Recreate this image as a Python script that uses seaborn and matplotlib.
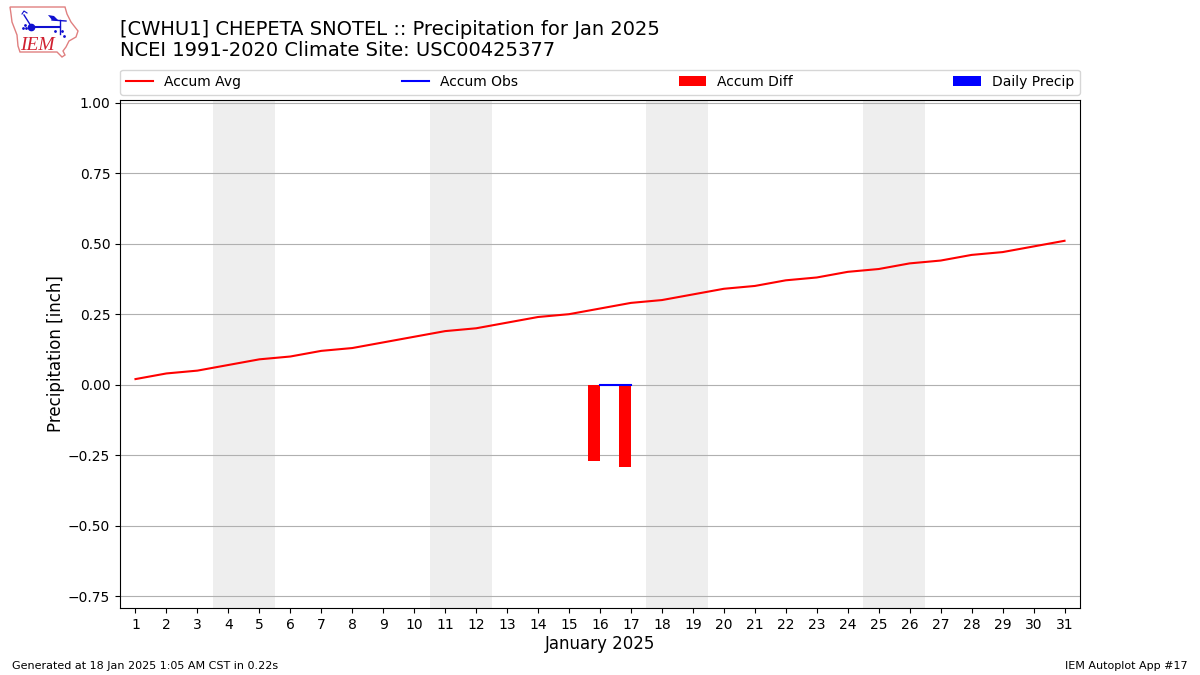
import pandas as pd
import matplotlib
matplotlib.use('Agg')
import matplotlib.pyplot as plt
from matplotlib.patches import Patch, Polygon
import seaborn as sns

# Values
days = list(range(1, 32))
accum_avg = [0.02, 0.04, 0.05, 0.07, 0.09, 0.10, 0.12, 0.13, 0.15, 0.17, 0.19,
             0.20, 0.22, 0.24, 0.25, 0.27, 0.29, 0.30, 0.32, 0.34, 0.35, 0.37,
             0.38, 0.40, 0.41, 0.43, 0.44, 0.46, 0.47, 0.49, 0.51]
obs_days = [16, 17]
accum_obs = [0.0, 0.0]
accum_diff = [-0.27, -0.29]
daily_precip = [0.0, 0.0]
weekends = [(3.5, 5.5), (10.5, 12.5), (17.5, 19.5), (24.5, 26.5)]
y_ticks = [-0.75, -0.50, -0.25, 0.0, 0.25, 0.50, 0.75, 1.00]

avg_df = pd.DataFrame({'day': days, 'avg': accum_avg})
obs_df = pd.DataFrame({'day': obs_days, 'obs': accum_obs})

sns.set_style('ticks')
plt.rcParams['font.family'] = ['DejaVu Sans']
plt.rcParams['lines.solid_capstyle'] = 'projecting'
plt.rcParams['patch.force_edgecolor'] = False

fig = plt.figure(figsize=(12, 6.75), dpi=100)
ax = fig.add_axes([0.10, 0.0993, 0.80, 0.7526])

for start, end in weekends:
    ax.axvspan(start, end, color='#eeeeee', lw=0, zorder=0)

ax.bar(obs_days, accum_diff, width=-0.4, align='edge', color='red', lw=0, zorder=2)
ax.bar(obs_days, daily_precip, width=0.4, align='edge', color='blue', lw=0, zorder=2)
sns.lineplot(data=avg_df, x='day', y='avg', color='red', lw=1.5, ax=ax,
             errorbar=None, zorder=3)
sns.lineplot(data=obs_df, x='day', y='obs', color='blue', lw=1.5, ax=ax,
             errorbar=None, zorder=3)

ax.set_xlim(0.5, 31.5)
ax.set_ylim(-0.791, 1.009)
ax.set_xticks(days)
ax.set_yticks(y_ticks)
ax.set_yticklabels(['\u22120.75', '\u22120.50', '\u22120.25', '0.00', '0.25', '0.50', '0.75', '1.00'])
ax.tick_params(labelsize=10, length=3.5, width=0.8, color='black', labelcolor='black')
ax.yaxis.grid(True, color='#b0b0b0', lw=0.8, zorder=1)
ax.set_axisbelow(True)
for spine in ax.spines.values():
    spine.set_visible(True)
    spine.set_color('black')
    spine.set_linewidth(0.8)
ax.set_xlabel('January 2025', fontsize=12, color='black', labelpad=2.6)
ax.set_ylabel('Precipitation [inch]', fontsize=12, color='black', labelpad=2.5)

handles = [plt.Line2D([], [], color='red', lw=1.5),
           plt.Line2D([], [], color='blue', lw=1.5),
           Patch(facecolor='red', lw=0), Patch(facecolor='blue', lw=0)]
ax.legend(handles, ['Accum Avg', 'Accum Obs', 'Accum Diff', 'Daily Precip'],
          ncol=4, mode='expand', loc='lower left', fontsize=10, frameon=True,
          labelcolor='black', bbox_to_anchor=(0, 1.0105, 1, 0.05), borderaxespad=0)

fig.text(0.10, 0.9565, '[CWHU1] CHEPETA SNOTEL :: Precipitation for Jan 2025',
         fontsize=14, va='center', color='black')
fig.text(0.10, 0.9245, 'NCEI 1991-2020 Climate Site: USC00425377',
         fontsize=14, va='center', color='black')
fig.text(0.01, 0.0095, 'Generated at 18 Jan 2025 1:05 AM CST in 0.22s', fontsize=8, color='black')
fig.text(0.99, 0.0095, 'IEM Autoplot App #17', fontsize=8, ha='right', color='black')

# IEM logo, roughed in with pixel coordinates
logo = fig.add_axes([0, 1 - 60 / 675, 80 / 1200, 60 / 675])
logo.set_xlim(0, 80)
logo.set_ylim(60, 0)
logo.axis('off')
logo.add_patch(Polygon([(10, 7), (65, 7), (67, 14), (71, 22), (78, 31), (76, 37),
                        (69, 41), (66, 47), (63, 51), (65, 55), (62, 57), (57, 52),
                        (20, 52), (18, 46), (17, 35), (12, 22), (11, 14)],
                       fill=False, ec='#e08080', lw=1))
logo.plot([31, 60], [26.5, 26.5], color='#1010d0', lw=1.5)
logo.plot([31], [27], 'o', color='#1010d0', ms=4.5)
logo.plot([24, 31], [15, 26], color='#1010d0', lw=1)
logo.plot([22, 24, 27], [14, 11, 13], color='#1010d0', lw=0.8)
logo.plot([60, 60], [20, 34], color='#1010d0', lw=1)
logo.plot([52, 66], [20, 21], color='#1010d0', lw=1)
logo.add_patch(Polygon([(48, 15), (54, 16), (59, 21), (52, 20)], color='#1010d0', lw=0))
logo.plot([23, 26, 25, 55, 62, 64], [28, 28, 25, 31, 31, 36], ls='none', marker='.', ms=2, color='#1010d0')
logo.text(37.5, 45.5, 'IEM', color='#d02030', fontsize=14, family='Liberation Serif',
          style='italic', ha='center', va='center')

fig.savefig('out.png', dpi=100)
